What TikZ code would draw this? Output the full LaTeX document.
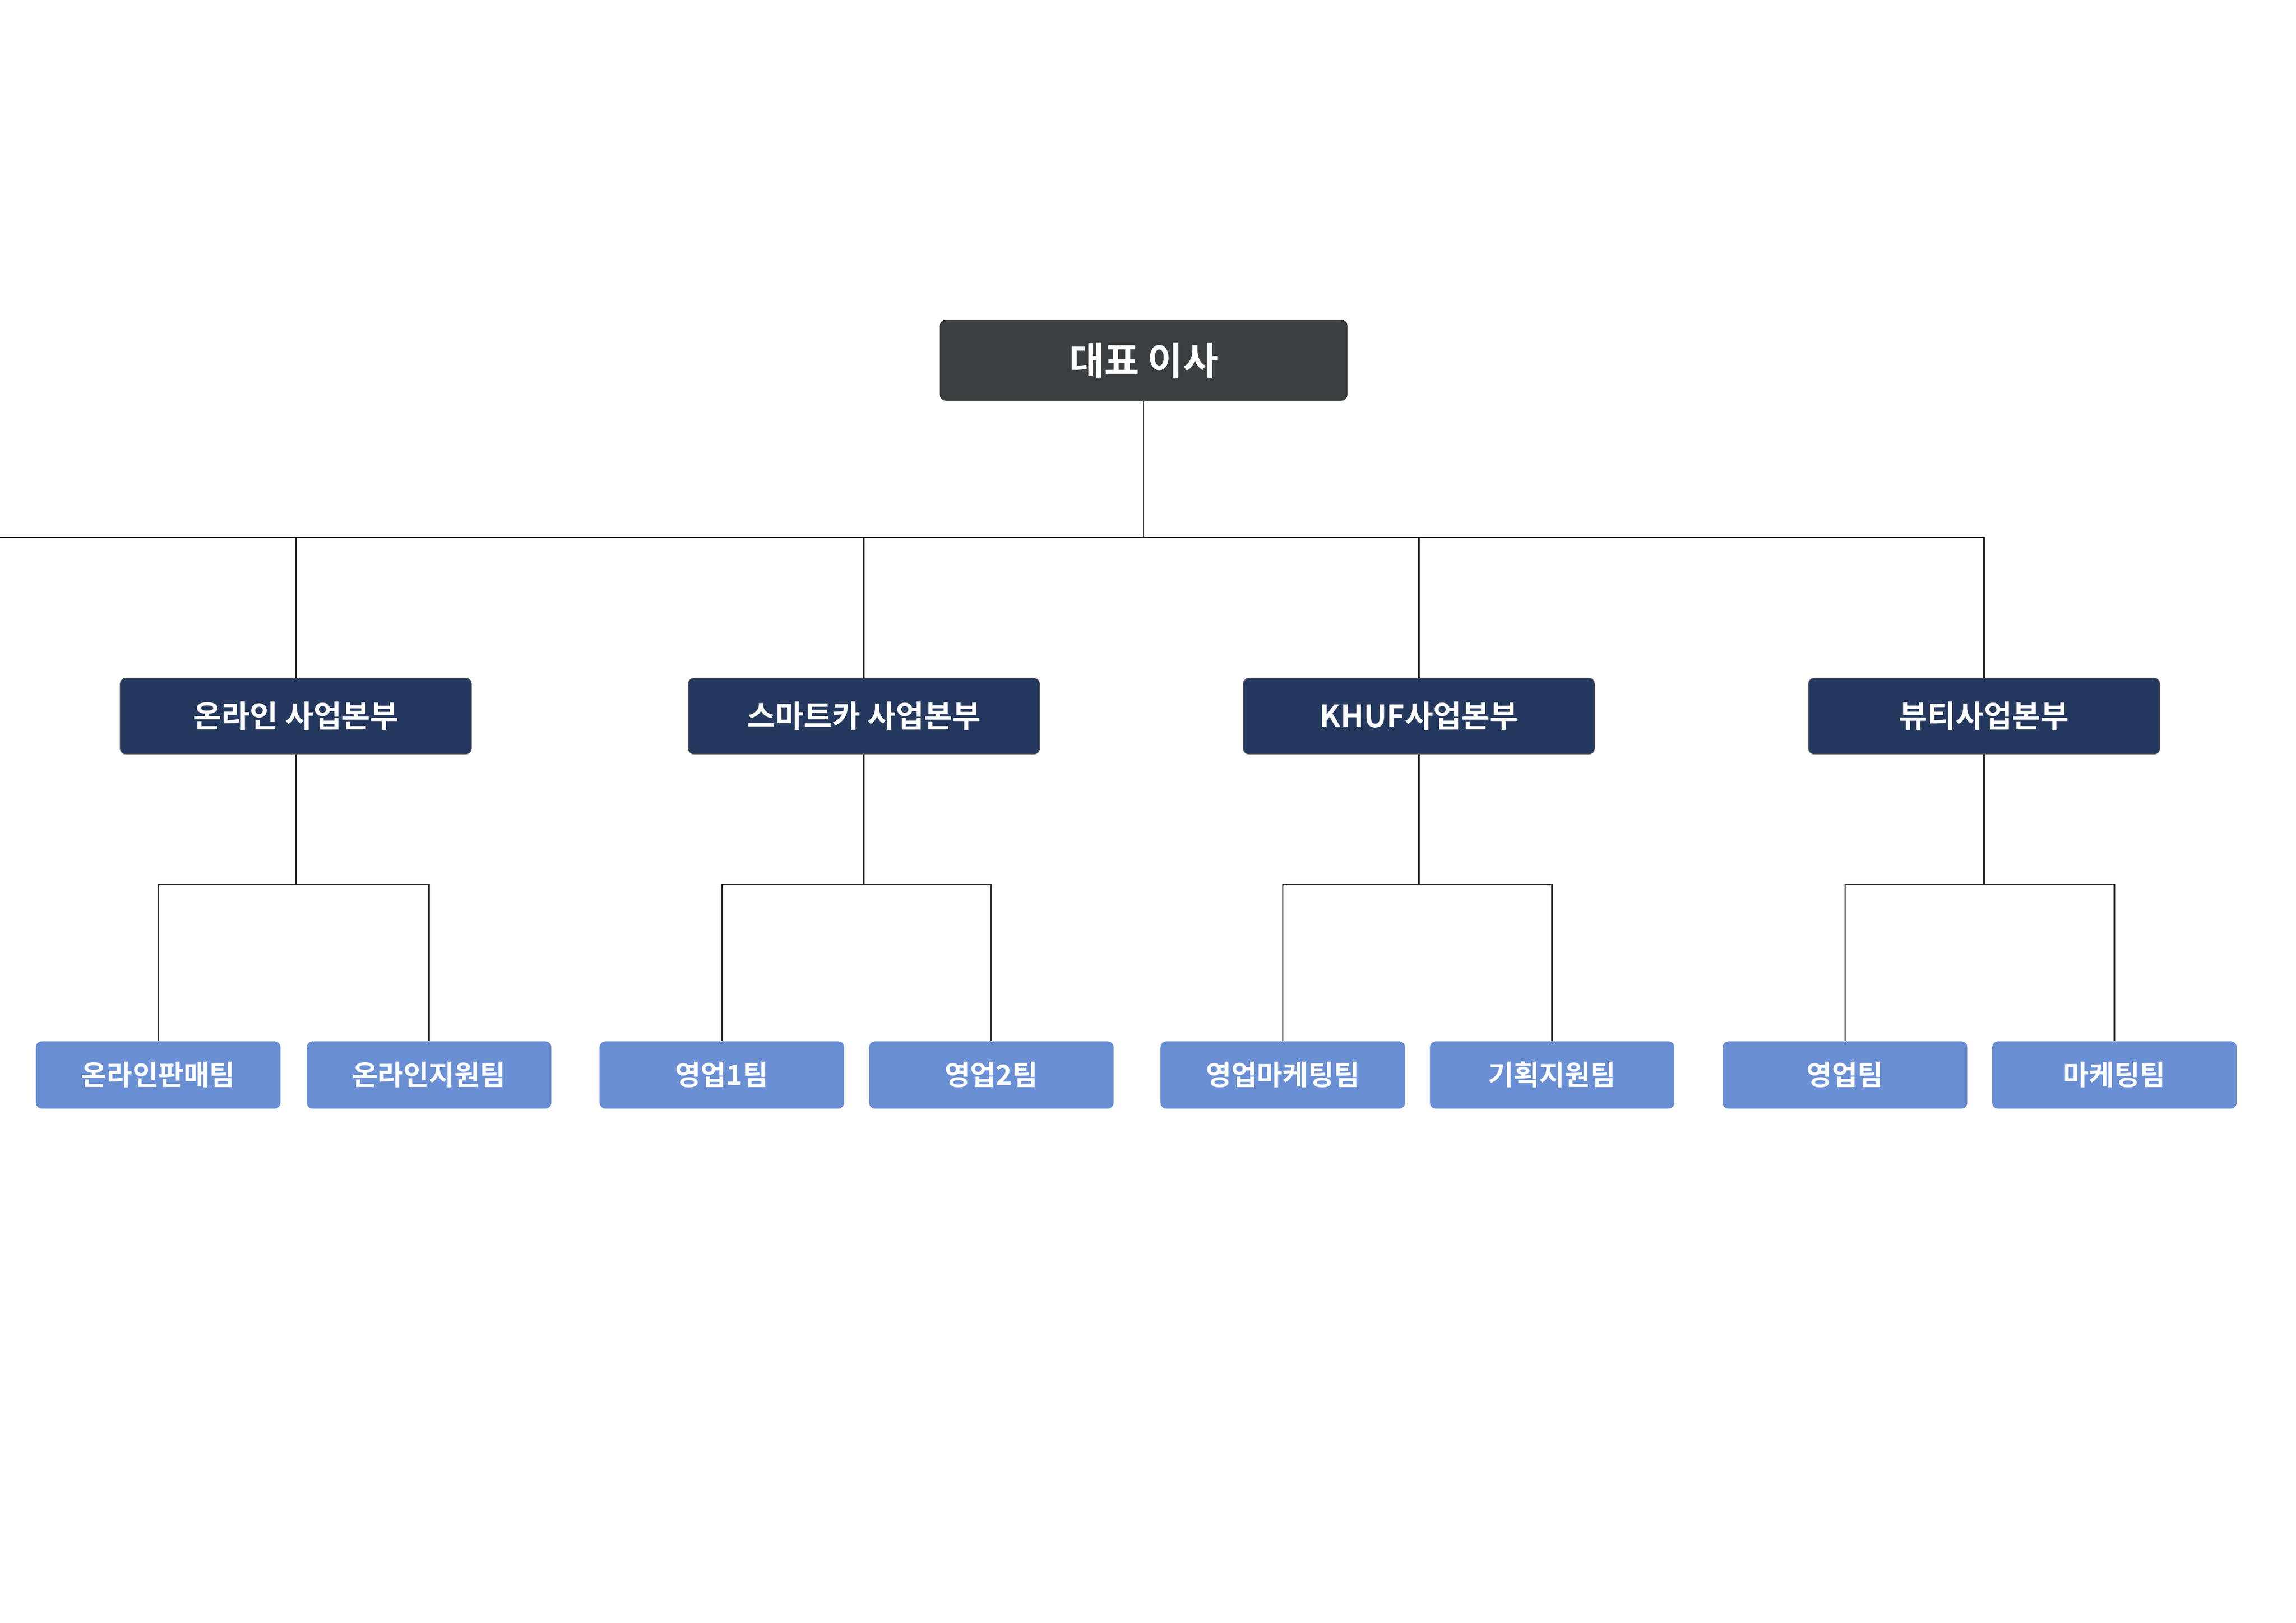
\documentclass[tikz,border=0pt]{standalone}
\usepackage{fontspec}
\newfontfamily\kr{Noto Sans CJK KR}[BoldFont={Noto Sans CJK KR Bold}]
\definecolor{topc}{HTML}{3B3F42}
\definecolor{midc}{HTML}{25395E}
\definecolor{lowc}{HTML}{6A8FD3}
\begin{document}
\begin{tikzpicture}[x=1pt,y=-1pt,
  topbox/.style={draw=black!80,fill=topc,rounded corners=4pt,minimum width=278pt,minimum height=55pt,text=white,font=\kr\bfseries\fontsize{26}{30}\selectfont},
  midbox/.style={draw=black!60,fill=midc,rounded corners=4pt,minimum width=240pt,minimum height=52pt,text=white,font=\kr\bfseries\fontsize{21}{25}\selectfont},
  lowbox/.style={fill=lowc,rounded corners=4pt,minimum width=167pt,minimum height=46pt,text=white,font=\kr\bfseries\fontsize{19}{23}\selectfont},
  ln/.style={draw=black!85,line width=1pt}]
\useasboundingbox[fill=white] (0,0) rectangle (1568,1108);
\node[topbox] (top) at (781,246) {대표 이사};
\node[midbox] (m1) at (202,489) {온라인 사업본부};
\node[midbox] (m2) at (590,489) {스마트카 사업본부};
\node[midbox] (m3) at (969,489) {KHUF사업본부};
\node[midbox] (m4) at (1355,489) {뷰티사업본부};
\node[lowbox] (a1) at (108,734) {온라인판매팀};
\node[lowbox] (a2) at (293,734) {온라인지원팀};
\node[lowbox] (b1) at (493,734) {영업1팀};
\node[lowbox] (b2) at (677,734) {영업2팀};
\node[lowbox] (c1) at (876,734) {영업마케팅팀};
\node[lowbox] (c2) at (1060,734) {기획지원팀};
\node[lowbox] (d1) at (1260,734) {영업팀};
\node[lowbox] (d2) at (1444,734) {마케팅팀};
\foreach \m in {m1,m2,m3,m4} \draw[ln] (top.south) |- (0,367) -| (\m.north);
\draw[ln] (top.south) -- ++(0,93);
\draw[ln] (m1.north) |- (m4.north |- 0,367) -- (m4.north);
\foreach \m/\p/\q in {m1/a1/a2,m2/b1/b2,m3/c1/c2,m4/d1/d2}{
  \draw[ln] (\m.south) -- ++(0,89);
  \draw[ln] (\p.north) |- (\m.south |- 0,604) -| (\q.north);
}
\end{tikzpicture}
\end{document}
